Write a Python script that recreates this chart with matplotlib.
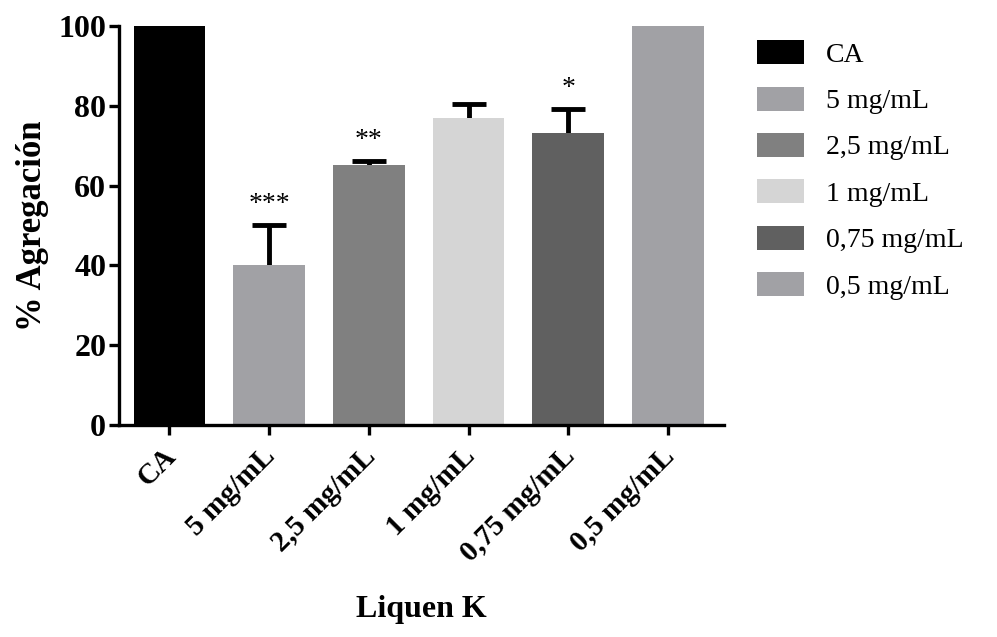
import matplotlib
matplotlib.use("Agg")
import matplotlib.pyplot as plt
from matplotlib.patches import Patch

plt.rcParams['font.family'] = ['Liberation Serif', 'DejaVu Serif']

groups = ["CA", "5 mg/mL", "2,5 mg/mL", "1 mg/mL", "0,75 mg/mL", "0,5 mg/mL"]
values = [100, 40.2, 65.1, 77.0, 73.2, 100]
errors = [0, 9.9, 1.1, 3.4, 6.0, 0]
stars = ["", "***", "**", "", "*", ""]
colors = ["#000000", "#a1a1a5", "#808080", "#d5d5d5", "#606060", "#a1a1a5"]

fig = plt.figure(figsize=(9.97, 6.37), dpi=100)
ax = fig.add_axes([0.119, 0.333, 0.607, 0.626])

x = range(len(groups))
ax.bar(x, values, width=0.72, color=colors, zorder=2)
for i in x:
    if errors[i] > 0:
        eb = ax.errorbar(i, values[i], yerr=[[0], [errors[i]]], fmt="none",
                         ecolor="black", elinewidth=3.5, capsize=12,
                         capthick=3.5, zorder=1)
        eb[1][0].set_visible(False)  # only the upper cap
    if stars[i]:
        ax.text(i, values[i] + errors[i] + 2.0, stars[i], ha="center",
                va="bottom", fontsize=20)

ax.set_xlim(-0.51, 5.56)
ax.set_ylim(0, 100)
ax.set_yticks([0, 20, 40, 60, 80, 100])
ax.set_xticks(list(x))
ax.set_xticklabels(groups, rotation=45, ha="right", va="center_baseline",
                   rotation_mode="anchor", fontweight="bold", fontsize=21)
for lab in ax.get_yticklabels():
    lab.set_fontweight("bold")
    lab.set_fontsize(23)

for s in ["top", "right"]:
    ax.spines[s].set_visible(False)
for s in ["left", "bottom"]:
    ax.spines[s].set_linewidth(2.4)
ax.tick_params(axis="both", width=2.4, length=7)
ax.tick_params(axis="y", pad=2)
ax.tick_params(axis="x", pad=11)

ax.set_ylabel("% Agregación", fontweight="bold", fontsize=25, labelpad=7)
ax.set_xlabel("Liquen K", fontweight="bold", fontsize=23, labelpad=20)

handles = [Patch(facecolor=c, edgecolor="none") for c in colors]
fig.legend(handles, groups, loc="upper left", bbox_to_anchor=(0.759, 0.937),
           frameon=False, fontsize=20, handlelength=1.7, handleheight=0.95,
           labelspacing=0.68, handletextpad=0.8, borderpad=0,
           borderaxespad=0)

fig.savefig("out.png", dpi=100)
